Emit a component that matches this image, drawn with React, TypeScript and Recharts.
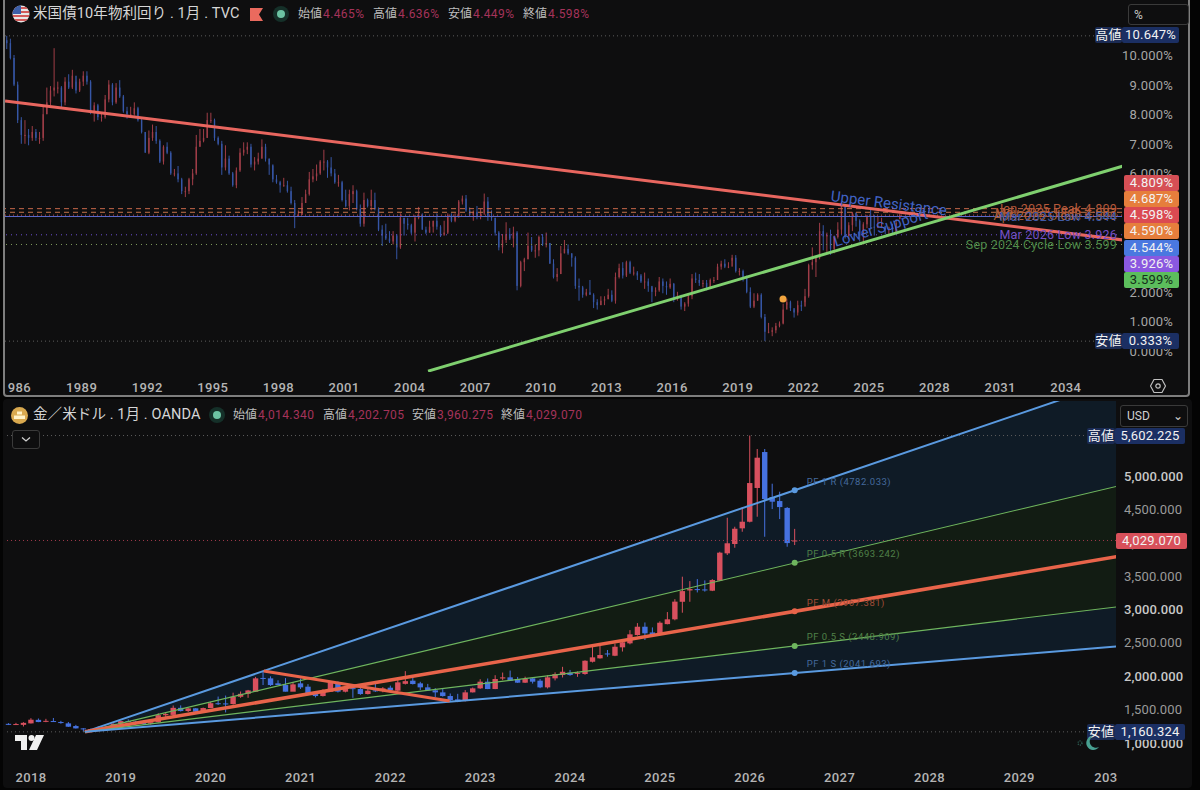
import { Area, Bar, ComposedChart, Line, ReferenceDot, ReferenceLine, XAxis, YAxis } from "recharts"

const FONT = "Roboto, 'Noto Sans CJK JP', sans-serif"
const UP = "#d8505e"
const DOWN = "#4672e0"

// US 10y yield, two-month candles from mid 1985
const yieldOpen = [
  10.5, 10.4, 9.9,
  9.0, 7.8, 7.3, 7.3, 7.2, 7.4,
  7.2, 7.2, 8.0, 8.4, 8.8, 8.9,
  8.9, 8.4, 9.1, 8.9, 9.3, 8.8,
  9.1, 9.3, 9.1, 8.1, 8.3, 7.9,
  7.9, 8.5, 9.0, 8.4, 8.9, 8.6,
  8.1, 8.0, 8.0, 8.2, 7.8, 7.4,
  6.7, 7.2, 7.4, 7.1, 6.4, 6.9,
  6.7, 6.0, 6.0, 5.8, 5.4, 5.4,
  5.8, 6.0, 6.9, 7.1, 7.2, 7.8,
  7.8, 7.2, 7.0, 6.2, 6.5, 6.0,
  5.6, 6.1, 6.7, 6.8, 6.9, 6.3,
  6.4, 6.5, 6.9, 6.5, 6.3, 5.8,
  5.7, 5.6, 5.6, 5.4, 5.0, 4.6,
  4.6, 5.0, 5.3, 5.8, 5.9, 6.0,
  6.4, 6.4, 6.2, 6.0, 5.7, 5.7,
  5.1, 4.9, 5.3, 5.4, 4.8, 4.3,
  5.1, 4.9, 5.1, 4.8, 4.1, 3.9,
  3.8, 3.7, 3.9, 3.5, 4.5, 4.3,
  4.25, 4.0, 4.5, 4.6, 4.1, 4.0,
  4.2, 4.4, 4.2, 3.9, 4.0, 4.6,
  4.4, 4.55, 5.05, 5.15, 4.75, 4.6,
  4.7, 4.55, 4.65, 5.05, 4.55, 4.5,
  4.0, 3.5, 3.75, 3.95, 3.8, 4.0,
  2.2, 3.0, 3.1, 3.55, 3.4, 3.4,
  3.85, 3.6, 3.65, 2.95, 2.5, 2.6,
  3.3, 3.45, 3.3, 3.15, 2.2, 2.15,
  1.9, 1.98, 1.9, 1.65, 1.55, 1.7,
  1.75, 1.9, 1.7, 2.5, 2.8, 2.55,
  3.0, 2.65, 2.65, 2.55, 2.35, 2.35,
  2.2, 2.0, 2.05, 2.35, 2.2, 2.15,
  2.27, 1.75, 1.85, 1.5, 1.6, 1.85,
  2.45, 2.4, 2.3, 2.3, 2.15, 2.4,
  2.4, 2.85, 2.95, 2.85, 2.85, 3.15,
  2.7, 2.7, 2.5, 2.0, 1.5, 1.7,
  1.9, 1.15, 0.65, 0.65, 0.7, 0.85,
  0.93, 1.4, 1.65, 1.45, 1.3, 1.55,
  1.5, 1.85, 2.9, 3.0, 3.15, 4.05,
  3.87, 3.92, 3.45, 3.85, 4.1, 4.9,
  3.88, 4.25, 4.68, 4.4, 3.9, 4.28,
  4.57, 4.2, 4.17, 4.23, 4.23, 4.1,
  4.17, 4.0, 4.465,
]
const yieldHigh = [
  10.647, 10.55, 10.0,
  9.1, 7.9, 7.8, 7.5, 7.6, 7.5,
  7.4, 8.3, 8.9, 8.95, 10.23, 9.1,
  8.95, 9.25, 9.35, 9.5, 9.1, 9.2,
  9.45, 9.45, 9.15, 8.4, 8.35, 8.05,
  8.65, 9.15, 9.05, 9.05, 9.15, 8.65,
  8.25, 8.25, 8.4, 8.25, 7.85, 7.4,
  7.45, 7.65, 7.6, 7.15, 6.95, 7.05,
  6.75, 6.15, 6.25, 5.85, 5.55, 5.85,
  6.15, 7.3, 7.5, 7.5, 8.05, 8.05,
  7.85, 7.25, 7.1, 6.95, 6.6, 6.05,
  6.2, 6.85, 7.05, 7.05, 7.0, 6.55,
  6.7, 7.15, 7.0, 6.5, 6.25, 5.95,
  5.75, 5.85, 5.75, 5.55, 5.1, 4.75,
  5.2, 5.45, 6.05, 6.15, 6.3, 6.45,
  6.8, 6.45, 6.55, 6.15, 5.95, 5.75,
  5.45, 5.45, 5.6, 5.45, 4.95, 5.35,
  5.15, 5.45, 5.35, 4.85, 4.25, 4.3,
  4.05, 4.05, 3.95, 4.65, 4.5, 4.5,
  4.3, 4.6, 4.87, 4.65, 4.2, 4.4,
  4.4, 4.65, 4.25, 4.4, 4.65, 4.65,
  4.65, 5.1, 5.25, 5.27, 4.85, 4.75,
  4.9, 4.8, 5.32, 5.2, 4.75, 4.5,
  4.05, 3.95, 4.35, 4.15, 4.2, 4.05,
  3.05, 3.15, 4.0, 3.85, 3.6, 3.9,
  3.95, 4.0, 3.65, 3.1, 2.8, 3.55,
  3.75, 3.6, 3.3, 3.2, 2.45, 2.2,
  2.1, 2.4, 1.95, 1.75, 1.85, 1.85,
  2.1, 2.05, 2.65, 2.95, 3.0, 3.05,
  3.05, 2.85, 2.7, 2.6, 2.65, 2.45,
  2.15, 2.15, 2.5, 2.45, 2.35, 2.45,
  2.3, 2.0, 1.9, 1.65, 1.9, 2.6,
  2.65, 2.6, 2.4, 2.4, 2.45, 2.5,
  2.95, 3.05, 3.1, 3.0, 3.25, 3.24,
  2.8, 2.75, 2.55, 2.15, 1.95, 1.95,
  1.95, 1.25, 0.95, 0.8, 0.95, 1.0,
  1.6, 1.77, 1.7, 1.4, 1.7, 1.7,
  2.1, 2.95, 3.5, 3.2, 4.33, 4.25,
  4.0, 4.1, 3.9, 4.35, 5.02, 4.9,
  4.35, 4.7, 4.65, 4.45, 4.35, 4.6,
  4.809, 4.6, 4.55, 4.5, 4.2, 4.2,
  4.3, 4.45, 4.636,
]
const yieldLow = [
  10.2, 9.85, 8.95,
  7.7, 7.0, 7.0, 6.95, 7.1, 7.1,
  7.0, 7.1, 8.0, 8.3, 8.6, 8.7,
  8.2, 8.3, 8.85, 8.85, 8.7, 8.75,
  8.95, 9.0, 8.0, 7.75, 7.8, 7.75,
  7.85, 8.4, 8.3, 8.35, 8.55, 8.05,
  7.85, 7.9, 7.95, 7.75, 7.35, 6.7,
  6.65, 7.1, 7.0, 6.35, 6.3, 6.65,
  5.95, 5.9, 5.7, 5.3, 5.2, 5.3,
  5.6, 5.95, 6.9, 7.05, 7.2, 7.7,
  7.1, 6.95, 5.95, 6.1, 5.95, 5.55,
  5.5, 6.05, 6.6, 6.65, 6.2, 6.1,
  6.3, 6.5, 6.4, 5.95, 5.7, 5.65,
  5.35, 5.55, 5.35, 4.95, 4.15, 4.55,
  4.6, 5.0, 5.25, 5.7, 5.75, 5.95,
  6.1, 5.85, 5.9, 5.65, 5.55, 5.05,
  4.85, 4.75, 5.0, 4.75, 4.2, 4.2,
  4.85, 4.75, 4.75, 4.05, 3.55, 3.75,
  3.65, 3.6, 3.1, 3.45, 3.9, 4.1,
  3.95, 3.7, 4.45, 4.1, 3.95, 4.0,
  4.0, 4.1, 3.85, 3.95, 3.95, 4.35,
  4.35, 4.5, 4.95, 4.7, 4.55, 4.4,
  4.45, 4.45, 4.6, 4.4, 4.4, 3.9,
  3.4, 3.3, 3.65, 3.75, 3.5, 2.05,
  2.15, 2.7, 3.1, 3.35, 3.15, 3.2,
  3.55, 3.5, 2.95, 2.45, 2.35, 2.6,
  3.3, 3.25, 2.85, 2.1, 1.7, 1.8,
  1.85, 1.9, 1.45, 1.4, 1.55, 1.55,
  1.75, 1.65, 1.6, 2.45, 2.45, 2.5,
  2.6, 2.55, 2.4, 2.3, 2.1, 2.0,
  1.65, 1.85, 2.0, 1.95, 1.9, 2.1,
  1.65, 1.7, 1.4, 1.35, 1.5, 1.75,
  2.3, 2.2, 2.15, 2.05, 2.1, 2.3,
  2.4, 2.75, 2.8, 2.8, 3.05, 2.65,
  2.55, 2.35, 1.95, 1.45, 1.45, 1.7,
  1.1, 0.333, 0.6, 0.5, 0.6, 0.8,
  0.9, 1.55, 1.35, 1.13, 1.2, 1.35,
  1.65, 1.8, 2.75, 2.5, 3.1, 3.4,
  3.3, 3.25, 3.3, 3.8, 3.95, 3.8,
  3.8, 4.05, 4.2, 3.7, 3.6, 4.15,
  4.15, 3.9, 4.15, 4.15, 3.95, 3.95,
  3.926, 3.95, 4.449,
]
const yieldClose = [
  10.4, 9.9, 9.0,
  7.8, 7.3, 7.3, 7.2, 7.4, 7.2,
  7.2, 8.0, 8.4, 8.8, 8.9, 8.9,
  8.4, 9.1, 8.9, 9.3, 8.8, 9.1,
  9.3, 9.1, 8.1, 8.3, 7.9, 7.9,
  8.5, 9.0, 8.4, 8.9, 8.6, 8.1,
  8.0, 8.0, 8.2, 7.8, 7.4, 6.7,
  7.2, 7.4, 7.1, 6.4, 6.9, 6.7,
  6.0, 6.0, 5.8, 5.4, 5.4, 5.8,
  6.0, 6.9, 7.1, 7.2, 7.8, 7.8,
  7.2, 7.0, 6.2, 6.5, 6.0, 5.6,
  6.1, 6.7, 6.8, 6.9, 6.3, 6.4,
  6.5, 6.9, 6.5, 6.3, 5.8, 5.7,
  5.6, 5.6, 5.4, 5.0, 4.6, 4.6,
  5.0, 5.3, 5.8, 5.9, 6.0, 6.4,
  6.4, 6.2, 6.0, 5.7, 5.7, 5.1,
  4.9, 5.3, 5.4, 4.8, 4.3, 5.1,
  4.9, 5.1, 4.8, 4.1, 3.9, 3.8,
  3.7, 3.9, 3.5, 4.5, 4.3, 4.25,
  4.0, 4.5, 4.6, 4.1, 4.0, 4.2,
  4.4, 4.2, 3.9, 4.0, 4.6, 4.4,
  4.55, 5.05, 5.15, 4.75, 4.6, 4.7,
  4.55, 4.65, 5.05, 4.55, 4.5, 4.0,
  3.5, 3.75, 3.95, 3.8, 4.0, 2.2,
  3.0, 3.1, 3.55, 3.4, 3.4, 3.85,
  3.6, 3.65, 2.95, 2.5, 2.6, 3.3,
  3.45, 3.3, 3.15, 2.2, 2.15, 1.9,
  1.98, 1.9, 1.65, 1.55, 1.7, 1.75,
  1.9, 1.7, 2.5, 2.8, 2.55, 3.0,
  2.65, 2.65, 2.55, 2.35, 2.35, 2.2,
  2.0, 2.05, 2.35, 2.2, 2.15, 2.27,
  1.75, 1.85, 1.5, 1.6, 1.85, 2.45,
  2.4, 2.3, 2.3, 2.15, 2.4, 2.4,
  2.85, 2.95, 2.85, 2.85, 3.15, 2.7,
  2.7, 2.5, 2.0, 1.5, 1.7, 1.9,
  1.15, 0.65, 0.65, 0.7, 0.85, 0.93,
  1.4, 1.65, 1.45, 1.3, 1.55, 1.5,
  1.85, 2.9, 3.0, 3.15, 4.05, 3.87,
  3.92, 3.45, 3.85, 4.1, 4.9, 3.88,
  4.25, 4.68, 4.4, 3.9, 4.28, 4.57,
  4.2, 4.17, 4.23, 4.23, 4.1, 4.17,
  4.0, 4.32, 4.598,
]
const yieldTicks = [0, 1, 2, 3, 4, 5, 6, 7, 8, 9, 10]
const yieldYears = [1986, 1989, 1992, 1995, 1998, 2001, 2004, 2007, 2010, 2013, 2016, 2019, 2022, 2025, 2028, 2031, 2034]
const yieldStart = 1985.58

const redTrend = [
  { t: 1985.5, v: 8.45 },
  { t: 2036.62, v: 3.75 },
]
const greenTrend = [
  { t: 2004.84, v: -0.68 },
  { t: 2036.62, v: 6.25 },
]

// XAU/USD monthly candles from Oct 2017
const goldOpen = [
  1280, 1270, 1265,
  1287, 1340, 1310, 1322, 1307, 1287, 1247, 1212, 1200, 1192, 1215, 1222,
  1281, 1321, 1313, 1292, 1283, 1305, 1409, 1414, 1520, 1472, 1513, 1463,
  1517, 1589, 1586, 1577, 1686, 1730, 1762, 1968, 1962, 1887, 1862, 1762,
  1887, 1837, 1727, 1697, 1762, 1895, 1762, 1815, 1802, 1727, 1782, 1772,
  1822, 1777, 1880, 1927, 1887, 1827, 1782, 1752, 1697, 1647, 1622, 1752,
  1812, 1912, 1802, 1960, 1977, 1952, 1897, 1962, 1927, 1827, 1962, 2012,
  2047, 2030, 2027, 2211, 2262, 2335, 2301, 2427, 2487, 2612, 2736, 2650,
  2612, 2775, 2847, 3110, 3280, 3300, 3295, 3276, 3426, 3836, 3976, 4211,
  4310, 4816, 5355, 4680, 4620, 4517, 4014.34,
]
const goldHigh = [
  1290, 1295, 1305,
  1365, 1360, 1355, 1368, 1325, 1308, 1265, 1215, 1212, 1243, 1238, 1285,
  1326, 1347, 1325, 1304, 1305, 1439, 1452, 1555, 1557, 1516, 1515, 1524,
  1611, 1689, 1704, 1747, 1765, 1789, 1984, 2075, 1992, 1933, 1966, 1906,
  1960, 1875, 1750, 1798, 1916, 1917, 1833, 1834, 1834, 1814, 1877, 1831,
  1853, 1975, 2070, 1998, 1910, 1879, 1815, 1807, 1735, 1730, 1786, 1824,
  1949, 1960, 2009, 2049, 2079, 1983, 1987, 1966, 1953, 2009, 2052, 2135,
  2088, 2065, 2232, 2432, 2450, 2387, 2484, 2531, 2685, 2790, 2800, 2726,
  2817, 2956, 3149, 3486, 3420, 3450, 3430, 3450, 3860, 4370, 4235, 4526,
  5602.225, 5400, 5400, 4880, 4760, 4530, 4202.705,
]
const goldLow = [
  1262, 1265, 1240,
  1285, 1305, 1305, 1310, 1282, 1235, 1210, 1160.324, 1180, 1182, 1196, 1221,
  1276, 1311, 1280, 1266, 1268, 1299, 1382, 1401, 1465, 1458, 1445, 1460,
  1517, 1563, 1451, 1568, 1670, 1670, 1757, 1862, 1848, 1860, 1765, 1775,
  1803, 1717, 1677, 1690, 1760, 1750, 1752, 1670, 1715, 1720, 1759, 1753,
  1780, 1772, 1870, 1870, 1787, 1780, 1681, 1688, 1615, 1605, 1616, 1750,
  1804, 1800, 1800, 1935, 1925, 1893, 1893, 1884, 1815, 1810, 1931, 1975,
  2001, 1985, 2016, 2200, 2258, 2287, 2295, 2364, 2472, 2603, 2537, 2583,
  2610, 2772, 2832, 2946, 3110, 3250, 3262, 3270, 3420, 3811, 3920, 4160,
  4300, 4385, 4085, 4500, 4350, 3935, 3960.275,
]
const goldClose = [
  1272, 1277, 1295,
  1342, 1307, 1325, 1315, 1292, 1237, 1212, 1200, 1190, 1215, 1222, 1280,
  1321, 1313, 1292, 1283, 1305, 1410, 1427, 1520, 1472, 1512, 1462, 1517,
  1589, 1585, 1577, 1686, 1730, 1781, 1962, 1955, 1862, 1862, 1762, 1872,
  1827, 1727, 1697, 1762, 1895, 1762, 1827, 1800, 1727, 1777, 1770, 1812,
  1785, 1902, 1920, 1877, 1827, 1782, 1752, 1697, 1637, 1612, 1752, 1812,
  1912, 1802, 1952, 1977, 1927, 1897, 1952, 1912, 1827, 1977, 2027, 2061,
  2012, 2044, 2226, 2277, 2312, 2326, 2436, 2503, 2622, 2736, 2637, 2597,
  2796, 2847, 3112, 3270, 3300, 3290, 3285, 3436, 3846, 3987, 4205, 4310,
  4890, 5270, 4650, 4610, 4530, 3990, 4029.07,
]
const goldTicks = [1000, 1500, 2000, 2500, 3000, 3500, 4000, 4500, 5000]
const goldYears = [2018, 2019, 2020, 2021, 2022, 2023, 2024, 2025, 2026, 2027, 2028, 2029, 2030]
const goldStart = 2017.75

// pitchfork rays: pivot, then where each leaves the plot
const fanTimes = [2018.6, 2030.08]
const pf1R = [1160, 6423]
const pfHalfR = [1160, 4840]
const pfMid = [1160, 3786]
const pfHalfS = [1160, 3033]
const pf1S = [1160, 2441]
const pfTime = 2026.5
const pfLevels = [
  { name: "PF 1 R (4782.033)", value: 4782.033, dot: "#5a9ae0", text: "#44699c" },
  { name: "PF 0.5 R (3693.242)", value: 3693.242, dot: "#6fb65e", text: "#4f8048" },
  { name: "PF M (2967.381)", value: 2967.381, dot: "#e8644a", text: "#a04c38" },
  { name: "PF 0.5 S (2448.909)", value: 2448.909, dot: "#6fb65e", text: "#4f8048" },
  { name: "PF 1 S (2041.693)", value: 2041.693, dot: "#5a9ae0", text: "#44699c" },
]
const goldSwing = [
  { t: 2020.59, v: 2072 },
  { t: 2022.66, v: 1622 },
]

const yieldRows = yieldClose.map((close, i) => ({
  t: yieldStart + i / 6,
  open: yieldOpen[i],
  high: yieldHigh[i],
  low: yieldLow[i],
  close,
  range: [yieldLow[i], yieldHigh[i]],
}))

const goldRows = goldClose.map((close, i) => ({
  t: goldStart + i / 12,
  open: goldOpen[i],
  high: goldHigh[i],
  low: goldLow[i],
  close,
  range: [goldLow[i], goldHigh[i]],
}))

const ray = (vals: number[]) => fanTimes.map((t, i) => ({ t, v: vals[i] }))
const zone = (lo: number[], hi: number[]) => fanTimes.map((t, i) => ({ t, band: [lo[i], hi[i]] }))

function candle(bodyWidth: number, opacity: number) {
  return (props: any) => {
    const { x, y, width, height, payload } = props
    const { open, close, high, low } = payload
    const cx = x + width / 2
    const perUnit = height / (high - low)
    const top = y + (high - Math.max(open, close)) * perUnit
    const bottom = y + (high - Math.min(open, close)) * perUnit
    const color = close >= open ? UP : DOWN
    return (
      <g opacity={opacity}>
        <line x1={cx} x2={cx} y1={y} y2={y + height} stroke={color} strokeWidth={1} />
        <rect x={cx - bodyWidth / 2} y={top} width={bodyWidth} height={Math.max(bottom - top, 1)} fill={color} />
      </g>
    )
  }
}

function yearTick(props: any) {
  const { x, y, payload } = props
  const year = String(payload.value)
  let label = year
  let anchor = "middle"
  let px = x
  if (year === "1986") {
    label = "986"
    anchor = "end"
    px = x + 15
  }
  if (year === "2030") {
    label = "203"
    anchor = "start"
    px = x - 15
  }
  return (
    <text x={px} y={y + 12} textAnchor={anchor} fontSize={13} fontWeight={500} letterSpacing={0.4} fill="#b4b4b4" fontFamily={FONT}>
      {label}
    </text>
  )
}

function yieldTick(props: any) {
  const { y, payload } = props
  return (
    <text x={1173} y={y + 5} textAnchor="end" fontSize={13} letterSpacing={0.2} fill="#a6a6a6" fontFamily={FONT}>
      {payload.value.toFixed(3)}%
    </text>
  )
}

function goldTick(props: any) {
  const { y, payload } = props
  const major = payload.value % 1000 === 0
  return (
    <text x={1124} y={y + 5} fontSize={13} fontWeight={major ? 500 : 400} letterSpacing={0.1} fill={major ? "#c8c8c8" : "#9a9a9a"} fontFamily={FONT}>
      {payload.value.toLocaleString("en-US")}.000
    </text>
  )
}

function Badge({ top, left, width, bg, color = "#f2f2f2", children }: any) {
  return (
    <div
      style={{
        position: "absolute",
        top: top - 8,
        left,
        width,
        height: 16,
        lineHeight: "16px",
        background: bg,
        color,
        fontSize: 13,
        textAlign: "center",
        borderRadius: 2,
        letterSpacing: 0.2,
      }}
    >
      {children}
    </div>
  )
}

function Stat({ left, top, name, value }: any) {
  return (
    <div style={{ position: "absolute", left, top, fontSize: 12, lineHeight: "16px", whiteSpace: "nowrap", letterSpacing: 0.4 }}>
      <span style={{ color: "#bdbdbd", letterSpacing: 0 }}>{name}</span>
      <span style={{ color: "#a5335a", marginLeft: 1 }}>{value}</span>
    </div>
  )
}

function Title({ left, top, children }: any) {
  return (
    <div style={{ position: "absolute", left, top, color: "#d6d6d6", fontSize: 14.5, lineHeight: "18px", whiteSpace: "nowrap", letterSpacing: 0.1 }}>{children}</div>
  )
}

function LiveDot({ left, top }: any) {
  return (
    <svg style={{ position: "absolute", left: left - 8, top: top - 8 }} width={16} height={16}>
      <circle cx={8} cy={8} r={8} fill="#153029" />
      <circle cx={8} cy={8} r={4} fill="#6cc3a3" />
    </svg>
  )
}

function YieldChart() {
  return (
    <ComposedChart width={1200} height={400} data={yieldRows} margin={{ top: 5, right: 0, bottom: 0, left: 5 }}>
      <XAxis
        dataKey="t"
        type="number"
        domain={[1985.497, 2036.57]}
        allowDataOverflow
        ticks={yieldYears}
        interval={0}
        axisLine={false}
        tickLine={false}
        height={28}
        tick={yearTick}
      />
      <YAxis
        orientation="right"
        type="number"
        domain={[-0.709, 11.689]}
        allowDataOverflow
        ticks={yieldTicks}
        interval={0}
        width={78}
        axisLine={false}
        tickLine={false}
        tick={yieldTick}
      />
      <ReferenceLine y={10.647} stroke="#5c5c5c" strokeDasharray="1 3" />
      <ReferenceLine y={0.333} stroke="#5c5c5c" strokeDasharray="1 3" />
      <ReferenceLine y={3.599} stroke="#7f9a5c" strokeDasharray="1 4" label={{ value: "Sep 2024 Cycle Low 3.599", position: "insideRight", fontSize: 12.5, fill: "#4e8a4a", fontFamily: FONT, letterSpacing: 0.2 }} />
      <ReferenceLine y={3.926} stroke="#6a4fd0" strokeDasharray="1 4" label={{ value: "Mar 2026 Low 3.926", position: "insideRight", fontSize: 12.5, fill: "#7450c4", fontFamily: FONT, letterSpacing: 0.2 }} />
      <ReferenceLine y={4.809} stroke="#c8684a" strokeDasharray="5 4" label={{ value: "Jan 2025 Peak 4.809", position: "insideRight", fontSize: 12.5, fill: "#b5583a", fontFamily: FONT, letterSpacing: 0.2 }} />
      <ReferenceLine y={4.687} stroke="#c8744a" strokeDasharray="5 4" label={{ value: "May 2025 High 4.687", position: "insideRight", fontSize: 12.5, fill: "#b5583a", fontFamily: FONT, letterSpacing: 0.2 }} />
      <ReferenceLine y={4.59} stroke="#c04a50" strokeDasharray="1 3" label={{ value: "Apr 2025 Close 4.590", position: "insideRight", fontSize: 12.5, fill: "#a8603a", fontFamily: FONT, letterSpacing: 0.2 }} />
      <ReferenceLine y={4.544} stroke="#5a68c8" strokeWidth={1.2} label={{ value: "Mar 2025 Low 4.544", position: "insideRight", fontSize: 12.5, fill: "#3f5aa8", fontFamily: FONT, letterSpacing: 0.2 }} />
      <Bar dataKey="range" barSize={2} isAnimationActive={false} shape={candle(1.4, 0.72)} />
      <Line data={redTrend} dataKey="v" stroke="#e8665f" strokeWidth={3} dot={false} isAnimationActive={false} legendType="none" />
      <Line data={greenTrend} dataKey="v" stroke="#7fd06f" strokeWidth={3} dot={false} isAnimationActive={false} legendType="none" />
      <ReferenceDot x={2021.07} y={1.76} r={3.5} fill="#f2a53f" stroke="none" />
    </ComposedChart>
  )
}

function GoldChart() {
  return (
    <ComposedChart width={1200} height={390} data={goldRows} margin={{ top: 1, right: 0, bottom: 0, left: 5 }}>
      <XAxis
        dataKey="t"
        type="number"
        domain={[2017.711, 2030.076]}
        allowDataOverflow
        ticks={goldYears}
        interval={0}
        axisLine={false}
        tickLine={false}
        height={28}
        tick={yearTick}
      />
      <YAxis
        orientation="right"
        type="number"
        domain={[708, 6120]}
        allowDataOverflow
        ticks={goldTicks}
        interval={0}
        width={84}
        axisLine={false}
        tickLine={false}
        tick={goldTick}
      />
      <Area data={zone(pfHalfR, pf1R)} dataKey="band" fill="#0f1b26" fillOpacity={1} stroke="none" isAnimationActive={false} />
      <Area data={zone(pfMid, pfHalfR)} dataKey="band" fill="#121c13" fillOpacity={1} stroke="none" isAnimationActive={false} />
      <Area data={zone(pfHalfS, pfMid)} dataKey="band" fill="#121c13" fillOpacity={1} stroke="none" isAnimationActive={false} />
      <Area data={zone(pf1S, pfHalfS)} dataKey="band" fill="#0f1b26" fillOpacity={1} stroke="none" isAnimationActive={false} />
      <ReferenceLine y={5602.225} stroke="#5c5c5c" strokeDasharray="1 3" />
      <ReferenceLine y={1160.324} stroke="#5c5c5c" strokeDasharray="1 3" />
      <ReferenceLine y={4029.07} stroke="#a03a4c" strokeDasharray="1 3" />
      <Bar dataKey="range" barSize={5} isAnimationActive={false} shape={candle(5.4, 1)} />
      <Line data={ray(pf1R)} dataKey="v" stroke="#5a9ae0" strokeWidth={2} dot={false} isAnimationActive={false} />
      <Line data={ray(pfHalfR)} dataKey="v" stroke="#6fb65e" strokeWidth={1.1} dot={false} isAnimationActive={false} />
      <Line data={ray(pfMid)} dataKey="v" stroke="#e8644a" strokeWidth={3.5} dot={false} isAnimationActive={false} />
      <Line data={ray(pfHalfS)} dataKey="v" stroke="#6fb65e" strokeWidth={1.1} dot={false} isAnimationActive={false} />
      <Line data={ray(pf1S)} dataKey="v" stroke="#5a9ae0" strokeWidth={2} dot={false} isAnimationActive={false} />
      <Line data={goldSwing} dataKey="v" stroke="#e8644a" strokeWidth={3} dot={false} isAnimationActive={false} />
      {pfLevels.map((p) => (
        <ReferenceDot
          key={p.name}
          x={pfTime}
          y={p.value}
          r={3}
          fill={p.dot}
          stroke="none"
          label={{ value: p.name, position: "right", dx: 4, dy: -9, fontSize: 9.5, letterSpacing: 0.5, fill: p.text, fontFamily: FONT }}
        />
      ))}
    </ComposedChart>
  )
}

export default function App() {
  return (
    <div style={{ position: "fixed", left: 0, top: 0, width: 1200, height: 790, background: "#040404", fontFamily: FONT, overflow: "hidden" }}>
      <div style={{ position: "absolute", left: 3, top: -4, width: 1187, height: 401, background: "#0e0e0f", border: "2px solid #7d7d7d", borderRadius: 4, boxSizing: "border-box" }} />
      <div style={{ position: "absolute", left: 3, top: 399, width: 1189, height: 389, background: "#0e0e0f", borderRadius: 4 }} />

      <div style={{ position: "absolute", left: 0, top: 0 }}>
        <YieldChart />
      </div>
      <div style={{ position: "absolute", left: 0, top: 400 }}>
        <GoldChart />
      </div>

      {/* top pane header */}
      <svg style={{ position: "absolute", left: 12, top: 5 }} width={18} height={18}>
        <clipPath id="flag"><circle cx={9} cy={9} r={8.5} /></clipPath>
        <g clipPath="url(#flag)">
          <rect width={18} height={18} fill="#e8e8e8" />
          <rect y={2} width={18} height={2} fill="#d25a5a" />
          <rect y={6} width={18} height={2} fill="#d25a5a" />
          <rect y={10} width={18} height={2} fill="#d25a5a" />
          <rect y={14} width={18} height={2} fill="#d25a5a" />
          <rect width={9} height={9} fill="#3d5fa8" />
        </g>
      </svg>
      <Title left={33} top={5}>米国債10年物利回り . 1月 . TVC</Title>
      <svg style={{ position: "absolute", left: 250, top: 8 }} width={13} height={13}>
        <polygon points="0,0 13,0 9,6.5 13,13 0,13" fill="#ea6a5e" />
      </svg>
      <LiveDot left={281} top={14} />
      <Stat left={298} top={6} name="始値" value="4.465%" />
      <Stat left={373} top={6} name="高値" value="4.636%" />
      <Stat left={448} top={6} name="安値" value="4.449%" />
      <Stat left={523} top={6} name="終値" value="4.598%" />
      <div style={{ position: "absolute", left: 1128, top: 4, width: 61, height: 21, border: "1px solid #3a3a3a", borderRadius: 3, color: "#c8c8c8", fontSize: 12, lineHeight: "20px", paddingLeft: 5, boxSizing: "border-box" }}>%</div>

      {/* trend notes */}
      <div style={{ position: "absolute", left: 831, top: 187, color: "#4163c4", fontSize: 15, whiteSpace: "nowrap", transform: "rotate(7.2deg)", transformOrigin: "left center" }}>Upper Resistance</div>
      <div style={{ position: "absolute", left: 834, top: 233, color: "#4163c4", fontSize: 15, whiteSpace: "nowrap", transform: "rotate(-17deg)", transformOrigin: "left center" }}>Lower Support</div>

      {/* top pane price tags */}
      <Badge top={35} left={1095} width={27} bg="#1b2b54">高値</Badge>
      <Badge top={35} left={1122} width={57} bg="#1b2f63">10.647%</Badge>
      <Badge top={183} left={1124} width={55} bg="#d64f55">4.809%</Badge>
      <Badge top={199} left={1124} width={55} bg="#e67e3c">4.687%</Badge>
      <Badge top={215} left={1124} width={55} bg="#db4a52">4.598%</Badge>
      <Badge top={231} left={1124} width={55} bg="#e67e3c">4.590%</Badge>
      <Badge top={247.5} left={1124} width={55} bg="#4a78e0">4.544%</Badge>
      <Badge top={263.5} left={1124} width={55} bg="#8a58e0">3.926%</Badge>
      <Badge top={279.5} left={1124} width={55} bg="#5cbe5c" color="#14301a">3.599%</Badge>
      <Badge top={341} left={1095} width={27} bg="#1b2b54">安値</Badge>
      <Badge top={341} left={1122} width={57} bg="#1b2f63">0.333%</Badge>
      <svg style={{ position: "absolute", left: 1150, top: 378 }} width={16} height={16}>
        <polygon points="4,1.5 12,1.5 15.5,8 12,14.5 4,14.5 0.5,8" fill="none" stroke="#c0c0c0" strokeWidth={1.2} />
        <circle cx={8} cy={8} r={2.2} fill="none" stroke="#c0c0c0" strokeWidth={1.2} />
      </svg>

      {/* bottom pane header */}
      <svg style={{ position: "absolute", left: 11, top: 407 }} width={17} height={17}>
        <circle cx={8.5} cy={8.5} r={8.5} fill="#d9a94f" />
        <rect x={6} y={4.5} width={5} height={3} fill="#fff2c8" />
        <rect x={3} y={8.5} width={11} height={3.5} fill="#fff2c8" />
      </svg>
      <Title left={33} top={406}>金／米ドル . 1月 . OANDA</Title>
      <LiveDot left={217} top={415} />
      <Stat left={233} top={407} name="始値" value="4,014.340" />
      <Stat left={323} top={407} name="高値" value="4,202.705" />
      <Stat left={412} top={407} name="安値" value="3,960.275" />
      <Stat left={501} top={407} name="終値" value="4,029.070" />
      <div style={{ position: "absolute", left: 12, top: 430, width: 28, height: 19, border: "1px solid #3a3a3a", borderRadius: 3, background: "#0e0e0f", boxSizing: "border-box" }}>
        <svg width={26} height={17}>
          <polyline points="9,6.5 13,10 17,6.5" fill="none" stroke="#d0d0d0" strokeWidth={1.3} />
        </svg>
      </div>
      <div style={{ position: "absolute", left: 1120, top: 405, width: 68, height: 22, border: "1px solid #3a3a3a", borderRadius: 3, color: "#d0d0d0", fontSize: 12, lineHeight: "20px", paddingLeft: 6, boxSizing: "border-box" }}>
        USD
        <span style={{ position: "absolute", right: 4, top: 0 }}>⌄</span>
      </div>

      {/* bottom pane price tags */}
      <Badge top={436} left={1087} width={28} bg="#1b2b54">高値</Badge>
      <Badge top={436} left={1115} width={70} bg="#1b2f63">5,602.225</Badge>
      <Badge top={541} left={1116} width={71} bg="#d8505a">4,029.070</Badge>
      <Badge top={732} left={1087} width={28} bg="#1b2b54">安値</Badge>
      <Badge top={732} left={1115} width={70} bg="#1b2f63">1,160.324</Badge>

      {/* watermark and session icon */}
      <svg style={{ position: "absolute", left: 15, top: 735 }} width={29} height={15}>
        <polygon points="0,0 12,0 12,15 6,15 6,6 0,6" fill="#f0f0f0" />
        <circle cx={16.5} cy={3} r={3} fill="#f0f0f0" />
        <polygon points="21,0 29,0 22,15 14,15" fill="#f0f0f0" />
      </svg>
      <svg style={{ position: "absolute", left: 1074, top: 735 }} width={28} height={16}>
        <circle cx={6} cy={8} r={2} fill="none" stroke="#2d5f55" strokeWidth={1.4} strokeDasharray="1 1" />
        <path d="M19 1 A7 7 0 1 0 25 12 A6 6 0 0 1 19 1 Z" fill="#48a091" />
      </svg>
    </div>
  )
}
